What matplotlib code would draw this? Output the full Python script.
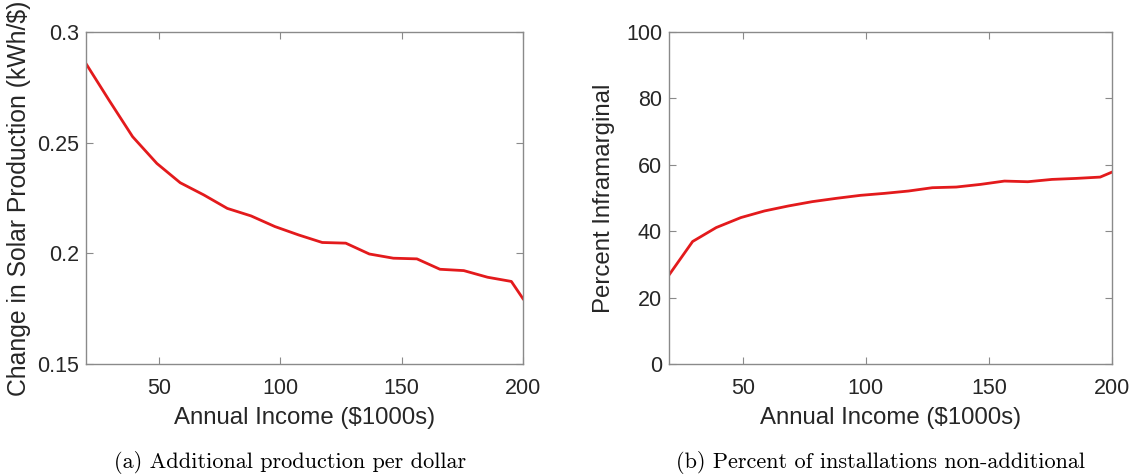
import matplotlib
matplotlib.use("Agg")
import matplotlib.pyplot as plt
from matplotlib.ticker import FuncFormatter

# income points (in $1000s)
income = [20, 29.6, 39.2, 49.2, 58.8, 68.5, 78.2, 88, 97.8, 107.6,
          117.3, 127, 136.7, 146.6, 156.3, 165.8, 175.6, 185.4, 195.2, 200]

# (a) additional production per dollar (kWh/$)
prod_per_dollar = [0.2857, 0.2690, 0.2527, 0.2406, 0.2319, 0.2264, 0.2203, 0.2169, 0.2121, 0.2083,
                   0.2049, 0.2046, 0.1997, 0.1978, 0.1975, 0.1928, 0.1922, 0.1892, 0.1873, 0.1795]

# (b) percent inframarginal
pct_inframarginal = [26.8, 36.9, 41.1, 44.1, 46.1, 47.6, 48.9, 49.9, 50.8, 51.4,
                     52.1, 53.1, 53.3, 54.1, 55.1, 54.9, 55.6, 55.9, 56.3, 57.8]

x_ticks = [50, 100, 150, 200]
y_ticks_a = [0.15, 0.2, 0.25, 0.3]
y_ticks_b = [0, 20, 40, 60, 80, 100]

captions = ["(a) Additional production per dollar",
            "(b) Percent of installations non-additional"]

LINE_COLOR = "#e31a1c"
TEXT_COLOR = "#262626"
SPINE_COLOR = "#8a8a8a"

plt.rcParams["font.family"] = ["Liberation Sans", "DejaVu Sans"]

W, H = 1135, 474
fig = plt.figure(figsize=(W / 100, H / 100), dpi=100)


def px_axes(left, top, right, bottom):
    return fig.add_axes([left / W, 1 - bottom / H, (right - left) / W, (bottom - top) / H])


def style(ax):
    for s in ax.spines.values():
        s.set_color(SPINE_COLOR)
        s.set_linewidth(1.0)
    ax.tick_params(direction="in", top=True, right=True, length=5, width=0.8,
                   color=SPINE_COLOR, labelsize=15.5, labelcolor=TEXT_COLOR)
    ax.tick_params(axis="x", pad=10)
    ax.tick_params(axis="y", pad=5)


ax1 = px_axes(86, 32, 523, 364)
ax1.plot(income, prod_per_dollar, color=LINE_COLOR, lw=2.0)
ax1.set_xlim(20, 200)
ax1.set_ylim(0.15, 0.3)
ax1.set_xticks(x_ticks)
ax1.set_yticks(y_ticks_a)
ax1.yaxis.set_major_formatter(FuncFormatter(lambda v, p: f"{v:g}"))
style(ax1)
ax1.set_xlabel("Annual Income ($1000s)", fontsize=17.3, color=TEXT_COLOR, labelpad=6)
ax1.set_ylabel("Change in Solar Production (kWh/$)", fontsize=17.8, color=TEXT_COLOR, labelpad=4)

ax2 = px_axes(669, 32, 1112, 364)
ax2.plot(income, pct_inframarginal, color=LINE_COLOR, lw=2.0)
ax2.set_xlim(20, 200)
ax2.set_ylim(0, 100)
ax2.set_xticks(x_ticks)
ax2.set_yticks(y_ticks_b)
style(ax2)
ax2.set_xlabel("Annual Income ($1000s)", fontsize=17.3, color=TEXT_COLOR, labelpad=6)
ax2.set_ylabel("Percent Inframarginal", fontsize=17.3, color=TEXT_COLOR, labelpad=8)

fig.text(290 / W, 1 - 462 / H, captions[0], ha="center", va="center",
         fontsize=16, family="cmr10", color="black")
fig.text(880 / W, 1 - 462 / H, captions[1], ha="center", va="center",
         fontsize=16, family="cmr10", color="black")

fig.savefig("out.png", dpi=100)
